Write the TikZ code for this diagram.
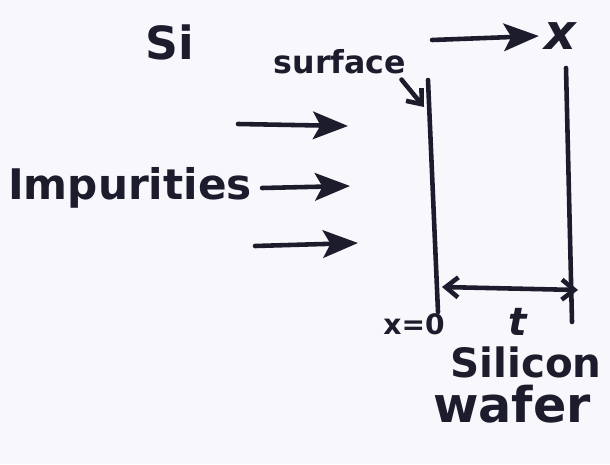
\documentclass[tikz,border=0pt]{standalone}
\usepackage{fontspec}
\setmainfont{DejaVu Sans}
\usetikzlibrary{arrows.meta,positioning,calc}
\definecolor{paper}{RGB}{247,247,252}
\definecolor{ink}{RGB}{28,28,45}
\tikzset{
  pen/.style={draw=ink,line width=2.6pt,line cap=round},
  push/.style={pen,-{Stealth[length=7mm,width=5.5mm,inset=1.5mm]}},
  barb/.style={pen,-{Straight Barb[length=2.5mm,width=4mm]}},
  dim/.style={pen,{Straight Barb[length=2.5mm,width=4mm]}-{Straight Barb[length=2.5mm,width=4mm]}},
  word/.style={text=ink,inner sep=0pt,font=\fontsize{#1}{#1}\selectfont\bfseries},
  word/.default=26pt,
}

\begin{document}
\begin{tikzpicture}[x=0.2mm,y=-0.2mm]
  \fill[paper] (0,0) rectangle (610,464);
  \useasboundingbox (0,0) rectangle (610,464);
  % wafer faces
  \coordinate (frontT) at (428,80); \coordinate (frontB) at (438,312);
  \coordinate (backT) at (566,68); \coordinate (backB) at (572,322);
  \draw[pen] (frontT) -- (frontB);
  \draw[pen] (backT) -- (backB);
  % thickness
  \coordinate (thkL) at (442,287); \coordinate (thkR) at (578,290);
  \draw[dim] (thkL) -- (thkR);
  \node[word=22pt] (thk) at (518,322) {\itshape t};
  \node[word=16pt] (origin) at (414,324) {x=0};
  \node[word=23pt] (silicon) at (526,362) {Silicon};
  \node[word=28pt] (wafer) at (512,404) {wafer};
  % surface label
  \node[word=26pt] (siname) at (170,42) {Si};
  \node[word=18pt] (surface) at (340,62) {surface};
  \coordinate (surfhit) at (424,107);
  \draw[barb] ([xshift=-1mm,yshift=-1mm]surface.south east) -- (surfhit);
  % depth axis
  \coordinate (axis0) at (432,40);
  \node[word=28pt] (xaxis) at (560,36) {\itshape x};
  \draw[push] (axis0) -- ([xshift=-1mm]xaxis.west);
  % impurities
  \node[word=24pt] (imp) at (130,188) {Impurities};
  \coordinate (in1) at (238,124); \coordinate (hit1) at (348,126);
  \coordinate (hit2) at (350,186);
  \coordinate (in3) at (255,246); \coordinate (hit3) at (358,243);
  \draw[push] (in1) -- (hit1);
  \draw[push] ([xshift=2mm]imp.east) -- (hit2);
  \draw[push] (in3) -- (hit3);
\end{tikzpicture}
\end{document}
